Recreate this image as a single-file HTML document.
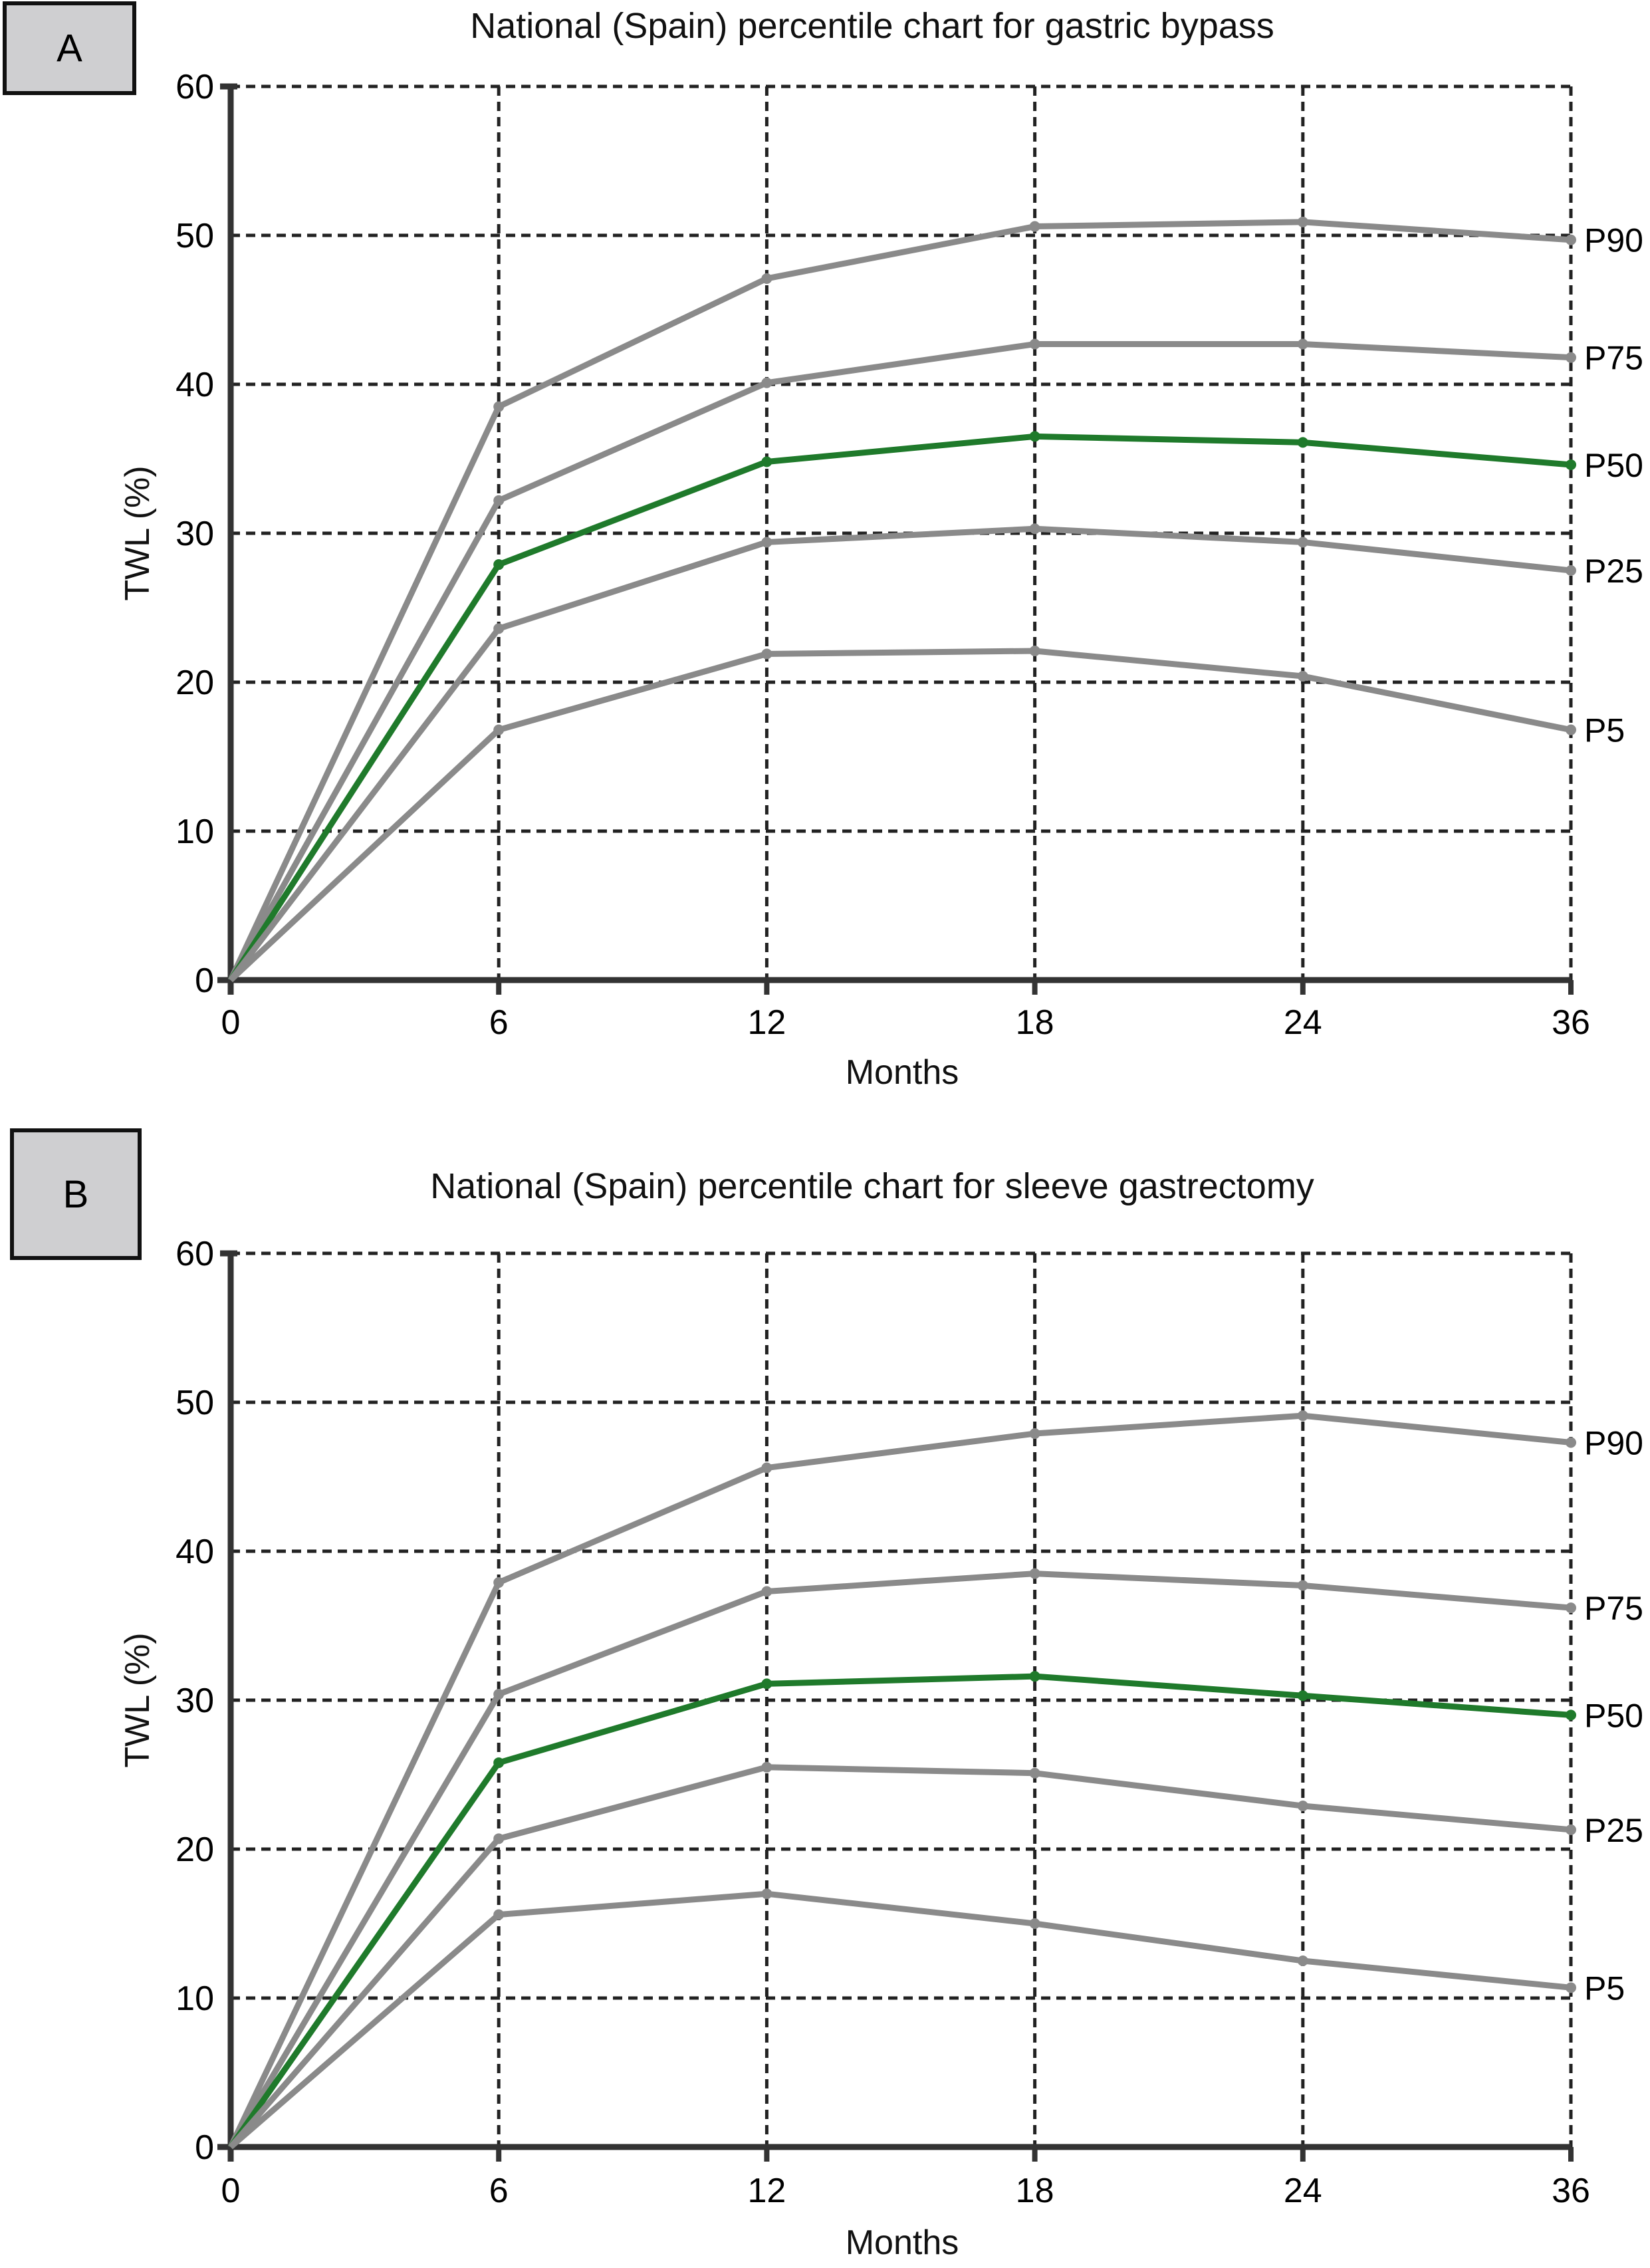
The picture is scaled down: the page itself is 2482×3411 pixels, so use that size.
<!DOCTYPE html>
<html><head><meta charset="utf-8"><style>
html,body{margin:0;padding:0;background:#fff;}
svg{display:block;font-family:"Liberation Sans",sans-serif;}
</style></head><body>
<svg id="chart" width="2482" height="3411" viewBox="0 0 2482 3411" xmlns="http://www.w3.org/2000/svg"></svg>
<script>
const categories = ["0","6","12","18","24","36"];
const yTicks = [0,10,20,30,40,50,60];
const seriesNames = ["P90","P75","P50","P25","P5"];
const bypassP90 = [0,38.5,47.1,50.6,50.9,49.7];
const bypassP75 = [0,32.2,40.1,42.7,42.7,41.8];
const bypassP50 = [0,27.9,34.8,36.5,36.1,34.6];
const bypassP25 = [0,23.6,29.4,30.3,29.4,27.5];
const bypassP5  = [0,16.8,21.9,22.1,20.4,16.8];
const sleeveP90 = [0,37.9,45.6,47.9,49.1,47.3];
const sleeveP75 = [0,30.4,37.3,38.5,37.7,36.2];
const sleeveP50 = [0,25.8,31.1,31.6,30.3,29.0];
const sleeveP25 = [0,20.7,25.5,25.1,22.9,21.3];
const sleeveP5  = [0,15.6,17.0,15.0,12.5,10.7];

const NS="http://www.w3.org/2000/svg";
const svg=document.getElementById('chart');
function mk(tag,attrs,parent){const e=document.createElementNS(NS,tag);for(const k in attrs)e.setAttribute(k,attrs[k]);(parent||svg).appendChild(e);return e;}

function panel(cfg){
  const g=mk('g',{});
  
  
  const x0=347,x1=2363,yTop=cfg.yTop,yBot=cfg.yBot;
  const xs=i=>x0+(x1-x0)*i/(categories.length-1);
  const ys=v=>yBot-(yBot-yTop)*v/60;
  const bx=mk('rect',{x:cfg.box[0],y:cfg.box[1],width:cfg.box[2],height:cfg.box[3],fill:'#cfcfd1',stroke:'#111','stroke-width':6},g);
  
  
  const bt=mk('text',{x:cfg.box[0]+cfg.box[2]/2,y:cfg.box[1]+cfg.box[3]/2+20,'text-anchor':'middle','font-size':58,fill:'#000'},g);
  bt.textContent=cfg.letter;
  
  
  const t=mk('text',{x:1312,y:cfg.titleY,'text-anchor':'middle','font-size':54,fill:'#111'},g);
  t.textContent=cfg.title;
  
  
  yTicks.forEach(v=>{ if(v===0)return;
    const l=mk('line',{x1:x0,x2:x1,y1:ys(v),y2:ys(v),stroke:'#222','stroke-width':5,'stroke-dasharray':'14 9'},g);
    
    
  });
  categories.forEach((c,i)=>{ if(i===0)return;
    const l=mk('line',{x1:xs(i),x2:xs(i),y1:yTop,y2:yBot,stroke:'#222','stroke-width':5,'stroke-dasharray':'14 9'},g);
    
    
  });
  const ax=mk('path',{d:`M${x0-16},${yTop} H${x0+10} M${x0},${yTop} V${yBot+22} M${x0-20},${yBot} H${x1}`,stroke:'#333','stroke-width':9,fill:'none'},g);
  
  
  categories.forEach((c,i)=>{
    const tk=mk('line',{x1:xs(i),x2:xs(i),y1:yBot,y2:yBot+22,stroke:'#333','stroke-width':8},g);
    
    
    const tl=mk('text',{x:xs(i),y:cfg.xLabY,'text-anchor':'middle','font-size':52,fill:'#000'},g);
    tl.textContent=c;
    
    
  });
  yTicks.forEach(v=>{
    const tl=mk('text',{x:322,y:ys(v)+18,'text-anchor':'end','font-size':52,fill:'#000'},g);
    tl.textContent=v;
    
    
  });
  const xt=mk('text',{x:1357,y:cfg.monthsY,'text-anchor':'middle','font-size':52,fill:'#111'},g);
  xt.textContent='Months';
  
  
  const cy=(yTop+yBot)/2;
  const yt=mk('text',{x:0,y:0,'text-anchor':'middle','font-size':52,fill:'#111',transform:`translate(224,${cy}) rotate(-90)`},g);
  yt.textContent='TWL (%)';
  
  
  cfg.series.forEach((arr,si)=>{
    const green=seriesNames[si]==='P50';
    const pts=arr.map((v,i)=>xs(i)+','+ys(v)).join(' ');
    const pl=mk('polyline',{points:pts,fill:'none',stroke:green?'#1f7a2b':'#8a8a8a','stroke-width':9,'stroke-linejoin':'round'},g);
    
    
    arr.forEach((v,i)=>{ if(i===0)return;
      const d=mk('circle',{cx:xs(i),cy:ys(v),r:8,fill:green?'#1f7a2b':'#8a8a8a'},g);
      
      
    });
    const last=arr[arr.length-1];
    const lb=mk('text',{x:x1+20,y:ys(last)+18,'font-size':50,fill:'#000'},g);
    lb.textContent=seriesNames[si];
    
    
  });
}
panel({name:'panel-a-gastric-bypass',letter:'A',box:[7,5,195,135],title:'National (Spain) percentile chart for gastric bypass',titleY:57,yTop:130,yBot:1474,xLabY:1555,monthsY:1630,
  series:[bypassP90,bypassP75,bypassP50,bypassP25,bypassP5]});
panel({name:'panel-b-sleeve-gastrectomy',letter:'B',box:[18,1700,192,192],title:'National (Spain) percentile chart for sleeve gastrectomy',titleY:1802,yTop:1885,yBot:3229,xLabY:3312,monthsY:3390,
  series:[sleeveP90,sleeveP75,sleeveP50,sleeveP25,sleeveP5]});
</script>
</body></html>
